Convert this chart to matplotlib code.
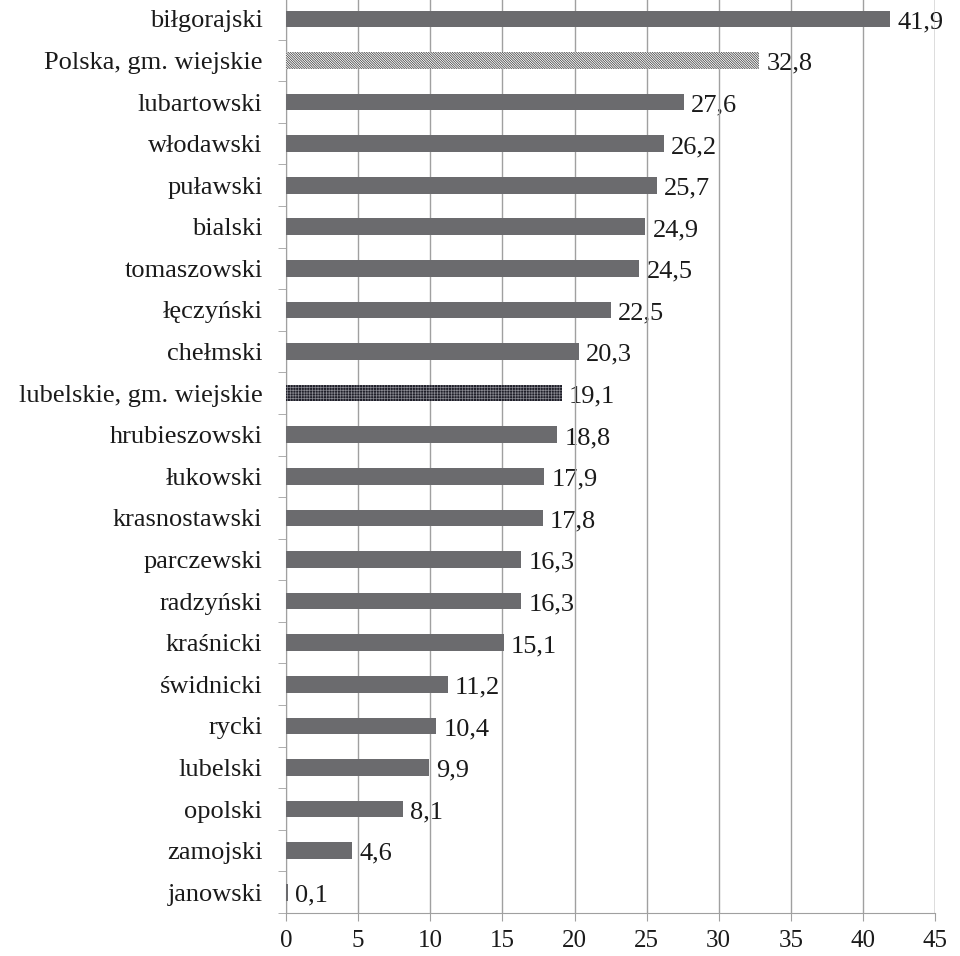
import matplotlib.pyplot as plt
import numpy as np

categories = ['biłgorajski', 'Polska, gm. wiejskie', 'lubartowski', 'włodawski',
              'puławski', 'bialski', 'tomaszowski', 'łęczyński', 'chełmski',
              'lubelskie, gm. wiejskie', 'hrubieszowski', 'łukowski',
              'krasnostawski', 'parczewski', 'radzyński', 'kraśnicki',
              'świdnicki', 'rycki', 'lubelski', 'opolski', 'zamojski', 'janowski']
values = [41.9, 32.8, 27.6, 26.2, 25.7, 24.9, 24.5, 22.5, 20.3, 19.1, 18.8,
          17.9, 17.8, 16.3, 16.3, 15.1, 11.2, 10.4, 9.9, 8.1, 4.6, 0.1]
value_labels = ['41,9', '32,8', '27,6', '26,2', '25,7', '24,9', '24,5', '22,5',
                '20,3', '19,1', '18,8', '17,9', '17,8', '16,3', '16,3', '15,1',
                '11,2', '10,4', '9,9', '8,1', '4,6', '0,1']

plt.rcParams['font.family'] = ['Liberation Serif', 'DejaVu Serif']
plt.rcParams['hatch.linewidth'] = 0.5

fig = plt.figure(figsize=(9.6, 9.56), dpi=100)
ax = fig.add_axes([0.298, 0.045, 0.676, 0.957])

y = np.arange(len(categories))
grey = '#6b6b6e'
bars = ax.barh(y, values, height=0.4, color=grey, zorder=3)

# Polska: white with dense diagonal lines
bars[1].set_facecolor('white')
bars[1].set_edgecolor('#333333')
bars[1].set_hatch('\\' * 14)
bars[1].set_linewidth(0)
# lubelskie: dark dotted pattern
bars[9].set_facecolor('#1e1e28')
bars[9].set_edgecolor('#8a8a92')
bars[9].set_hatch('+' * 6)
bars[9].set_linewidth(0)

for yi, v, lab in zip(y, values, value_labels):
    ax.text(v + 0.5, yi + 0.08, lab, va='center', ha='left', fontsize=19,
            color='#1a1a1a', zorder=1)

ax.set_xlim(0, 45)
ax.set_ylim(len(categories) - 0.5, -0.5)
ax.set_xticks(np.arange(0, 46, 5))
ax.set_yticks(y)
ax.set_yticklabels(categories, fontsize=19, color='#1a1a1a')
ax.set_yticks(np.arange(-0.5, len(categories), 1), minor=True)
ax.tick_params(axis='y', which='major', length=0, pad=17)
ax.tick_params(axis='y', which='minor', length=6, color='#a0a0a0')
ax.tick_params(axis='x', length=6, color='#a0a0a0', labelsize=18, pad=6,
               labelcolor='#1a1a1a')

ax.grid(axis='x', color='#a0a0a0', linewidth=1, zorder=2)
ax.set_axisbelow(False)
for s in ['top', 'right']:
    ax.spines[s].set_visible(False)
for s in ['left', 'bottom']:
    ax.spines[s].set_color('#a0a0a0')
ax.axvline(45, color='#a0a0a0', linewidth=1, zorder=2)

fig.savefig('out.png', dpi=100)
